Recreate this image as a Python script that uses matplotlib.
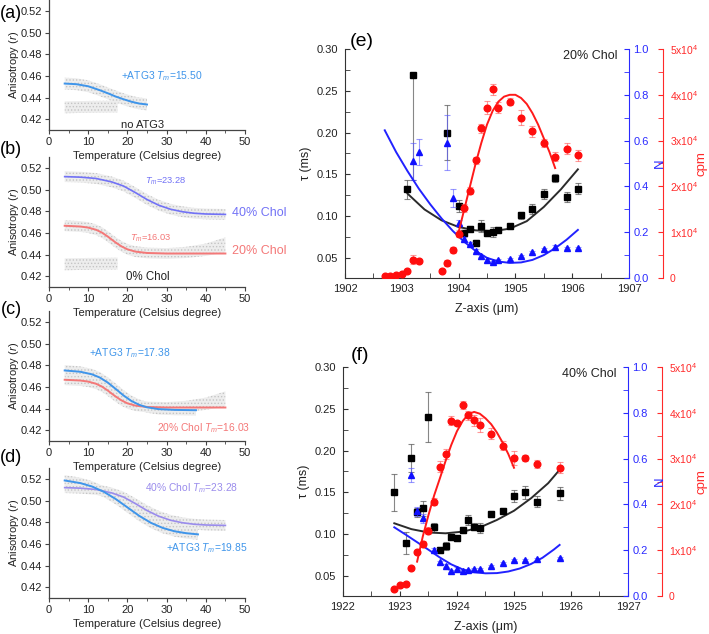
import matplotlib.pyplot as plt
import matplotlib.ticker as mticker

plt.rcParams['font.family'] = ['Liberation Sans', 'DejaVu Sans']
plt.rcParams['mathtext.fontset'] = 'custom'
plt.rcParams['mathtext.rm'] = 'Liberation Sans'
plt.rcParams['mathtext.it'] = 'Liberation Sans:italic'
plt.rcParams['hatch.linewidth'] = 0.6

# ---------------- anisotropy panels (a)-(d) ----------------
# gray data clouds: x, lower edge, upper edge
cl_atg_a_x = [4, 7, 10, 13, 16, 19, 22, 25]
cl_atg_a_lo = [0.4475, 0.4469, 0.4450, 0.4413, 0.4370, 0.4330, 0.4298, 0.4281]
cl_atg_a_hi = [0.4585, 0.4579, 0.4560, 0.4523, 0.4480, 0.4440, 0.4408, 0.4391]

cl_0chol_x = [4, 8, 12, 17.5]
cl_0chol_lo = [0.4255, 0.4258, 0.4260, 0.4262]
cl_0chol_hi = [0.4365, 0.4368, 0.4370, 0.4372]

cl_40_x = [4, 8, 12, 16, 19, 22, 25, 28, 31, 34, 37, 40, 45]
cl_40_lo = [0.5072, 0.5067, 0.5055, 0.5023, 0.4985, 0.4925, 0.4860, 0.4807, 0.4770, 0.4747, 0.4733, 0.4726, 0.4722]
cl_40_hi = [0.5172, 0.5167, 0.5155, 0.5123, 0.5085, 0.5025, 0.4960, 0.4907, 0.4870, 0.4847, 0.4833, 0.4826, 0.4822]

cl_20_x = [4, 8, 10, 12, 13.5, 15, 16, 17, 18.5, 20, 22, 25, 30, 35, 40, 45]
cl_20_lo = [0.4617, 0.4610, 0.4600, 0.4580, 0.4554, 0.4517, 0.4489, 0.4462, 0.4426, 0.4399, 0.4378, 0.4365, 0.4360, 0.4368, 0.4388, 0.4420]
cl_20_hi = [0.4717, 0.4710, 0.4700, 0.4680, 0.4654, 0.4617, 0.4589, 0.4562, 0.4526, 0.4499, 0.4478, 0.4465, 0.4460, 0.4472, 0.4502, 0.4560]

cl_atg_c_x = [4, 8, 11, 13, 15, 17.38, 19, 21, 23, 25, 28, 32, 37.5]
cl_atg_c_lo = [0.4703, 0.4691, 0.4667, 0.4637, 0.4591, 0.4521, 0.4472, 0.4421, 0.4385, 0.4362, 0.4345, 0.4338, 0.4335]
cl_atg_c_hi = [0.4803, 0.4791, 0.4767, 0.4737, 0.4691, 0.4621, 0.4572, 0.4521, 0.4485, 0.4462, 0.4445, 0.4438, 0.4435]

cl_atg_d_x = [4, 8, 11, 14, 17, 19.85, 23, 26, 29, 32, 35, 38]
cl_atg_d_lo = [0.5138, 0.5114, 0.5082, 0.5033, 0.4967, 0.4893, 0.4811, 0.4746, 0.4699, 0.4668, 0.4650, 0.4639]
cl_atg_d_hi = [0.5238, 0.5214, 0.5182, 0.5133, 0.5067, 0.4993, 0.4911, 0.4846, 0.4799, 0.4768, 0.4750, 0.4739]

# fitted curves
fit_atg_a_x = [4, 7, 10, 13, 15.5, 17, 19, 21, 23, 25]
fit_atg_a_y = [0.4530, 0.4524, 0.4505, 0.4468, 0.4433, 0.4410, 0.4385, 0.4362, 0.4345, 0.4336]

fit_40_x = [4, 8, 12, 16, 19, 22, 25, 28, 31, 34, 37, 40, 45]
fit_40_y = [0.5122, 0.5117, 0.5105, 0.5073, 0.5035, 0.4975, 0.4910, 0.4857, 0.4820, 0.4797, 0.4783, 0.4776, 0.4772]

fit_20_x = [4, 8, 10, 12, 13.5, 15, 16, 17, 18.5, 20, 22, 25, 30, 45]
fit_20_y = [0.4667, 0.4660, 0.4650, 0.4630, 0.4604, 0.4567, 0.4539, 0.4512, 0.4476, 0.4449, 0.4428, 0.4415, 0.4410, 0.4410]

fit_atg_c_x = [4, 8, 11, 13, 15, 17.38, 19, 21, 23, 25, 28, 32, 37.5]
fit_atg_c_y = [0.4753, 0.4741, 0.4717, 0.4687, 0.4641, 0.4571, 0.4522, 0.4471, 0.4435, 0.4412, 0.4395, 0.4388, 0.4385]

fit_atg_d_x = [4, 8, 11, 14, 17, 19.85, 23, 26, 29, 32, 35, 38]
fit_atg_d_y = [0.5188, 0.5164, 0.5132, 0.5083, 0.5017, 0.4943, 0.4861, 0.4796, 0.4749, 0.4718, 0.4700, 0.4689]

# ---------------- FCS panels (e), (f) ----------------
e_tau_x = [1903.1, 1903.2, 1903.8, 1904.0, 1904.1, 1904.2, 1904.3, 1904.4, 1904.5, 1904.6, 1904.7, 1904.9, 1905.1, 1905.3, 1905.5, 1905.7, 1905.9, 1906.1]
e_tau = [0.132, 0.269, 0.200, 0.112, 0.080, 0.085, 0.068, 0.088, 0.080, 0.081, 0.084, 0.088, 0.101, 0.109, 0.126, 0.146, 0.123, 0.133]
e_tau_err_lo = [0.011, 0.126, 0.033, 0.007, 0.004, 0.003, 0.003, 0.007, 0.004, 0.006, 0.003, 0.003, 0.004, 0.006, 0.006, 0.005, 0.006, 0.007]
e_tau_err_hi = [0.011, 0.0, 0.033, 0.007, 0.004, 0.003, 0.003, 0.007, 0.004, 0.006, 0.003, 0.003, 0.004, 0.006, 0.006, 0.005, 0.006, 0.007]

e_n_x = [1903.2, 1903.3, 1903.8, 1903.9, 1904.0, 1904.1, 1904.2, 1904.3, 1904.4, 1904.5, 1904.6, 1904.7, 1904.9, 1905.1, 1905.3, 1905.5, 1905.7, 1905.9, 1906.1]
e_n = [0.51, 0.55, 0.59, 0.35, 0.24, 0.17, 0.15, 0.12, 0.096, 0.077, 0.068, 0.080, 0.083, 0.097, 0.112, 0.125, 0.137, 0.130, 0.132]
e_n_err = [0.08, 0.055, 0.12, 0.04, 0.012, 0.01, 0.008, 0.006, 0.005, 0.005, 0.005, 0.005, 0.005, 0.005, 0.005, 0.005, 0.005, 0.005, 0.005]

e_cpm_x = [1902.7, 1902.8, 1902.9, 1903.0, 1903.1, 1903.2, 1903.3, 1903.7, 1903.8, 1903.9, 1904.0, 1904.1, 1904.2, 1904.3, 1904.4, 1904.5, 1904.6, 1904.7, 1904.9, 1905.1, 1905.3, 1905.5, 1905.7, 1905.9, 1906.1]
e_cpm = [450, 450, 700, 850, 1500, 4000, 3800, 1600, 3300, 6100, 9700, 15300, 19100, 25700, 32700, 37200, 41200, 37200, 38500, 35000, 32000, 29500, 26500, 28200, 26800]
e_cpm_err = [200, 200, 200, 200, 300, 1000, 400, 300, 600, 600, 800, 800, 800, 800, 1000, 1500, 1200, 1200, 800, 1600, 1200, 800, 1000, 1200, 1200]

e_tau_fit_x = [1903.1, 1903.4, 1903.7, 1904.0, 1904.3, 1904.6, 1904.9, 1905.2, 1905.5, 1905.8, 1906.1]
e_tau_fit = [0.127, 0.108, 0.095, 0.087, 0.083, 0.082, 0.085, 0.094, 0.111, 0.132, 0.156]
e_n_fit_x = [1902.7, 1902.9, 1903.1, 1903.3, 1903.5, 1903.7, 1903.9, 1904.1, 1904.3, 1904.5, 1904.7, 1904.9, 1905.1, 1905.3, 1905.5, 1905.7, 1905.9, 1906.1]
e_n_fit = [0.645, 0.550, 0.467, 0.390, 0.322, 0.260, 0.205, 0.158, 0.118, 0.088, 0.072, 0.066, 0.068, 0.079, 0.100, 0.130, 0.167, 0.210]
e_cpm_fit_x = [1904.0, 1904.1, 1904.2, 1904.3, 1904.4, 1904.5, 1904.6, 1904.7, 1904.8, 1904.9, 1905.0, 1905.1, 1905.2, 1905.3, 1905.4, 1905.5, 1905.6, 1905.7]
e_cpm_fit = [10000, 15000, 20000, 25000, 29500, 33500, 36500, 38500, 39600, 40000, 40000, 39300, 38000, 36000, 33500, 30500, 27500, 24000]

f_tau_x = [1922.9, 1923.1, 1923.2, 1923.3, 1923.4, 1923.5, 1923.6, 1923.7, 1923.8, 1923.9, 1924.0, 1924.1, 1924.2, 1924.3, 1924.4, 1924.6, 1924.8, 1925.0, 1925.2, 1925.4, 1925.8]
f_tau = [0.150, 0.089, 0.191, 0.126, 0.131, 0.240, 0.108, 0.081, 0.086, 0.096, 0.095, 0.105, 0.117, 0.109, 0.107, 0.124, 0.128, 0.146, 0.150, 0.139, 0.149]
f_tau_err = [0.022, 0.013, 0.017, 0.005, 0.009, 0.030, 0.005, 0.004, 0.005, 0.003, 0.003, 0.004, 0.006, 0.004, 0.006, 0.004, 0.003, 0.007, 0.008, 0.007, 0.008]

f_n_x = [1923.2, 1923.3, 1923.4, 1923.6, 1923.7, 1923.8, 1923.9, 1924.0, 1924.1, 1924.2, 1924.3, 1924.4, 1924.6, 1924.8, 1925.0, 1925.2, 1925.4, 1925.8]
f_n = [0.53, 0.37, 0.34, 0.20, 0.147, 0.132, 0.110, 0.120, 0.110, 0.112, 0.117, 0.117, 0.132, 0.143, 0.157, 0.157, 0.162, 0.165]
f_n_err = [0.03, 0.02, 0.02, 0.01, 0.006, 0.006, 0.005, 0.005, 0.005, 0.005, 0.005, 0.005, 0.005, 0.005, 0.005, 0.005, 0.005, 0.005]

f_cpm_x = [1922.9, 1923.0, 1923.1, 1923.2, 1923.3, 1923.4, 1923.5, 1923.6, 1923.7, 1923.8, 1923.9, 1924.0, 1924.1, 1924.2, 1924.3, 1924.4, 1924.6, 1924.8, 1925.0, 1925.2, 1925.4, 1925.8]
f_cpm = [1500, 2500, 2700, 6200, 9500, 11300, 14300, 20600, 28200, 31000, 38300, 37700, 41700, 39500, 38400, 37300, 35400, 32800, 30100, 30100, 28800, 28000]
f_cpm_err = [200, 200, 200, 300, 400, 600, 800, 800, 1200, 1000, 1000, 600, 800, 1000, 1200, 1500, 1200, 1000, 1500, 600, 800, 1200]

f_tau_fit_x = [1922.9, 1923.2, 1923.5, 1923.8, 1924.1, 1924.4, 1924.7, 1925.0, 1925.3, 1925.6, 1925.8]
f_tau_fit = [0.113, 0.106, 0.102, 0.101, 0.103, 0.108, 0.117, 0.128, 0.143, 0.161, 0.177]
f_n_fit_x = [1922.9, 1923.1, 1923.3, 1923.5, 1923.7, 1923.9, 1924.1, 1924.3, 1924.5, 1924.7, 1924.9, 1925.1, 1925.3, 1925.5, 1925.7, 1925.8]
f_n_fit = [0.300, 0.268, 0.235, 0.202, 0.168, 0.138, 0.116, 0.104, 0.099, 0.100, 0.107, 0.120, 0.140, 0.167, 0.203, 0.223]
f_cpm_fit_x = [1923.3, 1923.4, 1923.5, 1923.6, 1923.7, 1923.8, 1923.9, 1924.0, 1924.1, 1924.2, 1924.3, 1924.4, 1924.5, 1924.6, 1924.7, 1924.8, 1924.9, 1925.0]
f_cpm_fit = [7500, 13000, 17700, 22000, 25700, 29500, 33000, 36000, 38200, 39700, 40200, 39800, 38800, 37500, 35700, 33500, 31000, 28000]

C_ATG = '#3f95ea'
C_40 = '#7272f6'
C_40D = '#9a8cec'
C_20 = '#f47878'
C_TXT = '#222222'
C_BLUE = '#2a2aff'
C_RED = '#ff2a2a'
W, H = 709, 634

fig = plt.figure(figsize=(W / 100, H / 100), dpi=100)


def cloud(ax, x, lo, hi):
    ax.fill_between(x, lo, hi, facecolor='#ededed', edgecolor='#c4c4c4',
                    hatch='.....', linewidth=0, zorder=1)


def left_axes(bottom_px):
    ax = fig.add_axes([49 / W, 1 - bottom_px / H, 196 / W, 129.6 / H])
    ax.patch.set_visible(False)
    ax.set_xlim(0, 50)
    ax.set_ylim(0.41, 0.53)
    ax.set_xticks(range(0, 51, 10))
    ax.xaxis.set_minor_locator(mticker.MultipleLocator(5))
    ax.set_yticks([0.42, 0.44, 0.46, 0.48, 0.50, 0.52])
    ax.yaxis.set_major_formatter(mticker.FormatStrFormatter('%.2f'))
    for s in ['top', 'right']:
        ax.spines[s].set_visible(False)
    for s in ['left', 'bottom']:
        ax.spines[s].set_color('#444444')
        ax.spines[s].set_linewidth(0.9)
    ax.tick_params(which='both', direction='out', color='#444444', labelsize=8,
                   labelcolor=C_TXT, pad=2)
    ax.tick_params(which='major', length=3)
    ax.tick_params(which='minor', length=2)
    ax.set_xlabel('Temperature (Celsius degree)', fontsize=8, color=C_TXT, labelpad=3)
    ax.set_ylabel('Anisotropy ($r$)', fontsize=8, color=C_TXT)
    ax.yaxis.set_label_coords(-0.145, 0.5)
    return ax


ANN = 7.4

# (a)
ax = left_axes(130)
cloud(ax, cl_atg_a_x, cl_atg_a_lo, cl_atg_a_hi)
cloud(ax, cl_0chol_x, cl_0chol_lo, cl_0chol_hi)
ax.plot(fit_atg_a_x, fit_atg_a_y, color=C_ATG, lw=1.4, zorder=3)
ax.text(18.4, 0.460, '+ATG3 $T_m$=15.50', color=C_ATG, fontsize=ANN, va='center')
ax.text(18.4, 0.4146, 'no ATG3', color=C_TXT, fontsize=8, va='center')

# (b)
ax = left_axes(287)
cloud(ax, cl_40_x, cl_40_lo, cl_40_hi)
cloud(ax, cl_20_x, cl_20_lo, cl_20_hi)
cloud(ax, cl_0chol_x, cl_0chol_lo, cl_0chol_hi)
ax.plot(fit_40_x, fit_40_y, color=C_40, lw=1.2, zorder=3)
ax.plot(fit_20_x, fit_20_y, color=C_20, lw=1.4, zorder=3)
ax.text(24.5, 0.5075, '$T_m$=23.28', color=C_40, fontsize=6.7, va='center')
ax.text(46.7, 0.4782, '40% Chol', color=C_40, fontsize=9, va='center')
ax.text(20.7, 0.4551, '$T_m$=16.03', color=C_20, fontsize=6.7, va='center')
ax.text(46.7, 0.4433, '20% Chol', color=C_20, fontsize=9, va='center')
ax.text(19.6, 0.4195, '0% Chol', color=C_TXT, fontsize=8.3, va='center')

# (c)
ax = left_axes(441)
cloud(ax, cl_20_x, cl_20_lo, cl_20_hi)
cloud(ax, cl_atg_c_x, cl_atg_c_lo, cl_atg_c_hi)
ax.plot(fit_20_x, fit_20_y, color=C_20, lw=1.4, zorder=3)
ax.plot(fit_atg_c_x, fit_atg_c_y, color=C_ATG, lw=1.4, zorder=3)
ax.text(10.2, 0.4918, '+ATG3 $T_m$=17.38', color=C_ATG, fontsize=ANN, va='center')
ax.text(27.5, 0.4218, '20% Chol $T_m$=16.03', color=C_20, fontsize=ANN, va='center')

# (d)
ax = left_axes(598)
cloud(ax, cl_40_x, cl_40_lo, cl_40_hi)
cloud(ax, cl_atg_d_x, cl_atg_d_lo, cl_atg_d_hi)
ax.plot(fit_40_x, fit_40_y, color=C_40D, lw=1.2, zorder=3)
ax.plot(fit_atg_d_x, fit_atg_d_y, color=C_ATG, lw=1.4, zorder=3)
ax.text(24.5, 0.5121, '40% Chol $T_m$=23.28', color=C_40D, fontsize=ANN, va='center')
ax.text(29.8, 0.456, '+ATG3 $T_m$=19.85', color=C_ATG, fontsize=ANN, va='center')


def cpm_fmt(v, pos):
    if abs(v) < 1:
        return '0'
    return '%dx10$^4$' % round(v / 1e4)


def fcs_panel(rect, xmin, tag, d):
    ax = fig.add_axes(rect)
    axn = ax.twinx()
    axc = ax.twinx()
    ax.set_xlim(xmin, xmin + 5)
    ax.set_ylim(0.026, 0.30)
    axn.set_ylim(0, 1.0)
    axc.set_ylim(0, 5e4)
    ax.xaxis.set_major_locator(mticker.MultipleLocator(1))
    ax.xaxis.set_minor_locator(mticker.MultipleLocator(0.5))
    ax.xaxis.set_major_formatter(mticker.FormatStrFormatter('%d'))
    ax.set_yticks([0.05, 0.10, 0.15, 0.20, 0.25, 0.30])
    ax.yaxis.set_minor_locator(mticker.MultipleLocator(0.025))
    ax.yaxis.set_major_formatter(mticker.FormatStrFormatter('%.2f'))
    axn.yaxis.set_major_locator(mticker.MultipleLocator(0.2))
    axn.yaxis.set_minor_locator(mticker.MultipleLocator(0.1))
    axn.yaxis.set_major_formatter(mticker.FormatStrFormatter('%.1f'))
    axc.yaxis.set_major_locator(mticker.MultipleLocator(1e4))
    axc.yaxis.set_minor_locator(mticker.MultipleLocator(5e3))
    axc.yaxis.set_major_formatter(mticker.FuncFormatter(cpm_fmt))

    ax.spines['top'].set_visible(False)
    ax.spines['right'].set_visible(False)
    for s in ['left', 'bottom']:
        ax.spines[s].set_color('#333333')
    for a in (axn, axc):
        for s in ['top', 'left', 'bottom']:
            a.spines[s].set_visible(False)
    axn.spines['right'].set_color(C_BLUE)
    axc.spines['right'].set_color(C_RED)
    axc.spines['right'].set_position(('outward', 24.5))

    ax.tick_params(which='both', direction='in', color='#333333', labelsize=8,
                   labelcolor=C_TXT, length=3.5)
    ax.tick_params(axis='y', which='both', pad=5)
    ax.tick_params(axis='x', which='both', pad=4)
    axn.tick_params(which='both', direction='in', color=C_BLUE, labelcolor=C_BLUE,
                    labelsize=8, length=3.5, pad=3)
    axc.tick_params(which='both', direction='in', color=C_RED, labelcolor=C_RED,
                    labelsize=7.5, length=3.5, pad=5)

    ax.set_xlabel('Z-axis (\u03bcm)', fontsize=9, color=C_TXT, labelpad=7)
    ax.set_ylabel('\u03c4 (ms)', fontsize=9, color=C_TXT, labelpad=3)

    # fits
    ax.plot(d['tfx'], d['tf'], color='#2b2b2b', lw=1.4, zorder=3)
    axn.plot(d['nfx'], d['nf'], color='#2222ff', lw=1.4, zorder=3)
    axc.plot(d['cfx'], d['cf'], color='#ff1a1a', lw=1.4, zorder=3)
    # data with error bars
    ax.errorbar(d['tx'], d['t'], yerr=d['te'], fmt='none', ecolor='#555555',
                elinewidth=0.8, capsize=2, capthick=0.8, alpha=0.7, zorder=2)
    ax.plot(d['tx'], d['t'], 's', color='black', ms=4.3, zorder=4)
    axn.errorbar(d['nx'], d['n'], yerr=d['ne'], fmt='none', ecolor='#5555ff',
                 elinewidth=0.8, capsize=2, capthick=0.8, alpha=0.6, zorder=2)
    axn.plot(d['nx'], d['n'], '^', color='#1010ff', ms=4.6, zorder=4)
    axc.errorbar(d['cx'], d['c'], yerr=d['ce'], fmt='none', ecolor='#ff5555',
                 elinewidth=0.8, capsize=2, capthick=0.8, alpha=0.6, zorder=2)
    axc.plot(d['cx'], d['c'], 'o', color='#ff0d0d', ms=4.8, zorder=4)

    ax.text(0.96, 0.97, tag, transform=ax.transAxes, ha='right', va='center',
            fontsize=9, color=C_TXT)

    # right-hand axis titles
    yc = rect[1] + rect[3] / 2
    fig.text(660 / W, yc, 'N', rotation=90, ha='center', va='center',
             fontsize=9.5, color=C_BLUE)
    fig.text(701 / W, yc, 'cpm', rotation=90, ha='center', va='center',
             fontsize=9.5, color=C_RED)
    return ax


fcs_panel([345 / W, 1 - 278 / H, 284 / W, 229 / H], 1902, '20% Chol',
          dict(tx=e_tau_x, t=e_tau, te=[e_tau_err_lo, e_tau_err_hi],
               nx=e_n_x, n=e_n, ne=e_n_err, cx=e_cpm_x, c=e_cpm, ce=e_cpm_err,
               tfx=e_tau_fit_x, tf=e_tau_fit, nfx=e_n_fit_x, nf=e_n_fit,
               cfx=e_cpm_fit_x, cf=e_cpm_fit))
fcs_panel([343 / W, 1 - 596 / H, 285 / W, 229 / H], 1922, '40% Chol',
          dict(tx=f_tau_x, t=f_tau, te=f_tau_err,
               nx=f_n_x, n=f_n, ne=f_n_err, cx=f_cpm_x, c=f_cpm, ce=f_cpm_err,
               tfx=f_tau_fit_x, tf=f_tau_fit, nfx=f_n_fit_x, nf=f_n_fit,
               cfx=f_cpm_fit_x, cf=f_cpm_fit))

# panel letters
for lab, px, py, fs in [('(a)', 11, 13, 13), ('(b)', 11, 149, 13), ('(c)', 11, 309, 13),
                        ('(d)', 11, 457, 13), ('(e)', 362, 41, 14), ('(f)', 360, 355, 14)]:
    fig.text(px / W, 1 - py / H, lab, fontsize=fs, ha='center', va='center', color='black')

fig.savefig('out.png', dpi=100)
